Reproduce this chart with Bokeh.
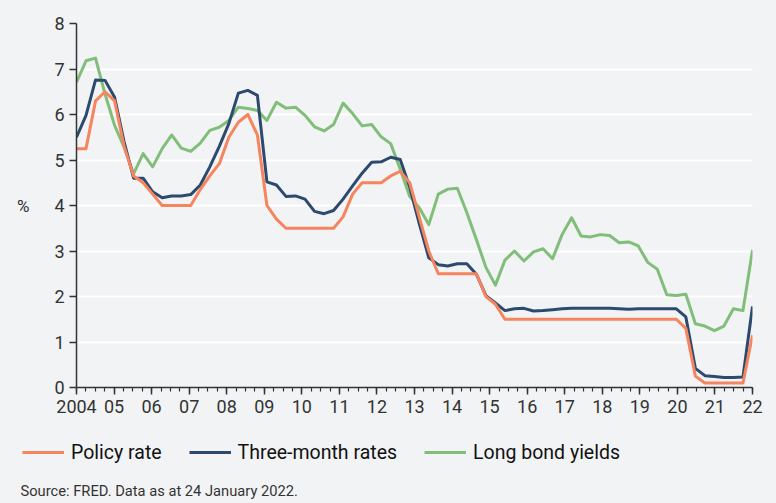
from bokeh.plotting import figure
from bokeh.layouts import column
from bokeh.models import Range1d, FixedTicker, Legend, LegendItem, Label
from bokeh.embed import file_html
from bokeh.resources import INLINE

# Quarterly observations, 2004Q1 - 2021Q4
quarters = [f"{y}Q{q}" for y in range(2004, 2022) for q in range(1, 5)]

policy_rate = [
    5.25, 5.25, 6.30, 6.50, 6.30, 5.30, 4.65, 4.50, 4.25, 4.00,
    4.00, 4.00, 4.00, 4.35, 4.65, 4.92, 5.50, 5.83, 6.00, 5.55,
    4.00, 3.70, 3.50, 3.50, 3.50, 3.50, 3.50, 3.50, 3.75, 4.25,
    4.50, 4.50, 4.50, 4.65, 4.75, 4.50, 3.75, 3.00, 2.50, 2.50,
    2.50, 2.50, 2.50, 2.00, 1.83, 1.50, 1.50, 1.50, 1.50, 1.50,
    1.50, 1.50, 1.50, 1.50, 1.50, 1.50, 1.50, 1.50, 1.50, 1.50,
    1.50, 1.50, 1.50, 1.50, 1.30, 0.25, 0.10, 0.10, 0.10, 0.10,
    0.10, 1.15,
]

three_month = [
    5.50, 5.98, 6.76, 6.75, 6.38, 5.40, 4.60, 4.60, 4.30, 4.17,
    4.21, 4.21, 4.24, 4.45, 4.85, 5.30, 5.80, 6.47, 6.53, 6.42,
    4.52, 4.45, 4.20, 4.21, 4.14, 3.87, 3.82, 3.89, 4.14, 4.43,
    4.71, 4.95, 4.96, 5.06, 5.01, 4.40, 3.60, 2.85, 2.70, 2.67,
    2.72, 2.72, 2.49, 2.02, 1.86, 1.69, 1.73, 1.74, 1.68, 1.69,
    1.71, 1.73, 1.74, 1.74, 1.74, 1.74, 1.74, 1.73, 1.72, 1.73,
    1.73, 1.73, 1.73, 1.73, 1.55, 0.42, 0.26, 0.24, 0.22, 0.22,
    0.23, 1.78,
]

long_bond = [
    6.71, 7.18, 7.24, 6.45, 5.76, 5.28, 4.70, 5.14, 4.85, 5.25,
    5.55, 5.26, 5.19, 5.37, 5.65, 5.72, 5.87, 6.16, 6.13, 6.09,
    5.87, 6.27, 6.14, 6.16, 5.98, 5.73, 5.64, 5.78, 6.25, 6.02,
    5.75, 5.78, 5.51, 5.36, 4.80, 4.20, 3.95, 3.58, 4.25, 4.36,
    4.38, 3.84, 3.25, 2.64, 2.25, 2.80, 3.00, 2.78, 2.98, 3.05,
    2.83, 3.36, 3.73, 3.33, 3.31, 3.36, 3.34, 3.18, 3.20, 3.11,
    2.75, 2.60, 2.04, 2.02, 2.05, 1.40, 1.35, 1.25, 1.35, 1.73,
    1.69, 3.02,
]

year_ticks = list(range(2004, 2023))
year_labels = ["2004", "05", "06", "07", "08", "09", "10", "11", "12", "13",
               "14", "15", "16", "17", "18", "19", "20", "21", "22"]
y_ticks = [0, 1, 2, 3, 4, 5, 6, 7, 8]

series_names = ["Policy rate", "Three-month rates", "Long bond yields"]
series_colors = ["#F5845F", "#2C4A6E", "#80BE7A"]
source_text = "Source: FRED. Data as at 24 January 2022."

FONT = "Roboto"
BG = "#F2F3F5"
TXT = "#333333"
W = 776

# spread the quarterly observations over the 2004-2022 axis span
n = len(quarters)
x0, x1 = year_ticks[0], year_ticks[-1]
xs = [x0 + i * (x1 - x0) / (n - 1) for i in range(n)]
series = [policy_rate, three_month, long_bond]

p = figure(width=W, height=420, x_range=Range1d(x0, x1), y_range=Range1d(0, 8),
           output_backend="svg", toolbar_location=None,
           min_border_left=76, min_border_right=24, min_border_top=23, min_border_bottom=33)
p.frame_align = False
p.background_fill_color = BG
p.border_fill_color = BG
p.outline_line_color = None

p.xgrid.visible = False
p.ygrid.grid_line_color = "white"
p.ygrid.grid_line_width = 2
p.ygrid.ticker = FixedTicker(ticks=y_ticks)

p.xaxis.ticker = FixedTicker(ticks=year_ticks,
                             minor_ticks=[x0 + k / 4 for k in range((x1 - x0) * 4 + 1)])
p.xaxis.major_label_overrides = {t: l for t, l in zip(year_ticks, year_labels)}
p.yaxis.ticker = FixedTicker(ticks=y_ticks)
p.yaxis.axis_label = "%"
p.yaxis.axis_label_orientation = "horizontal"
p.yaxis.axis_label_standoff = 22
p.yaxis.axis_label_text_font_style = "normal"

for ax in (p.xaxis, p.yaxis):
    ax.axis_line_color = TXT
    ax.axis_line_width = 1.5
    ax.major_tick_line_color = TXT
    ax.major_tick_line_width = 1.5
    ax.minor_tick_line_color = TXT
    ax.minor_tick_line_width = 1.2
    ax.major_tick_in = 0
    ax.major_tick_out = 7
    ax.minor_tick_in = 0
    ax.minor_tick_out = 4
    ax.major_label_text_font = FONT
    ax.major_label_text_font_size = "18px"
    ax.major_label_text_color = TXT
    ax.axis_label_text_font = FONT
    ax.axis_label_text_font_size = "17px"
    ax.axis_label_text_color = TXT
    ax.major_label_standoff = 5
p.yaxis.minor_tick_line_color = None

# draw green first, then navy, then orange on top
for vals, col in reversed(list(zip(series, series_colors))):
    p.line(xs, vals, line_color=col, line_width=3, line_join="round")

# footer: legend and source note (its ranges keep the series out of view; only legend keys show)
f = figure(width=W, height=83, x_range=Range1d(0, 1), y_range=Range1d(-100, -99),
           output_backend="svg", toolbar_location=None,
           x_axis_type=None, y_axis_type=None,
           min_border_left=0, min_border_right=0, min_border_top=0, min_border_bottom=0)
f.frame_align = False
f.background_fill_color = BG
f.border_fill_color = BG
f.outline_line_color = None

keys = [f.line(xs, vals, line_color=col, line_width=3) for vals, col in zip(series, series_colors)]
legend = Legend(items=[LegendItem(label=nm, renderers=[r]) for nm, r in zip(series_names, keys)],
                orientation="horizontal", location=(22, 39),
                padding=0, margin=0, spacing=27, glyph_width=42, glyph_height=24,
                label_height=24, label_standoff=7,
                label_text_font=FONT, label_text_font_size="19.5px", label_text_color="#111111",
                background_fill_alpha=0, border_line_alpha=0)
f.add_layout(legend)

f.add_layout(Label(x=20, y=13, x_units="screen", y_units="screen", text=source_text,
                   text_font=FONT, text_font_size="14.7px", text_color=TXT,
                   text_baseline="middle"))

page = column(p, f, spacing=0)
open("out.html", "w").write(file_html(page, INLINE).replace("<body>", f'<body style="background:{BG};margin:0">'))
